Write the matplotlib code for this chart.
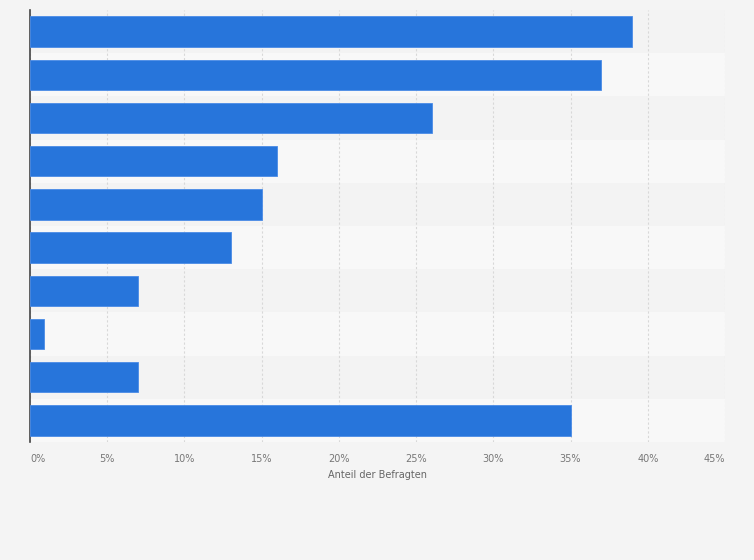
import numpy as np
import matplotlib.pyplot as plt

values = [39, 37, 26, 16, 15, 13, 7, 0.9, 7, 35]
ticks = [0, 5, 10, 15, 20, 25, 30, 35, 40, 45]
tick_labels = [str(t) + '%' for t in ticks]

fig = plt.figure(figsize=(7.54, 5.60), dpi=100)
fig.patch.set_facecolor('#f4f4f4')
ax = fig.add_axes([30/754, 1-442/560, 695/754, 432/560])
ax.set_facecolor('#f3f3f3')

n = len(values)
y = np.arange(n)
# alternating row bands
for i in range(n):
    if i % 2 == 1:
        ax.axhspan(i-0.5, i+0.5, color='#f8f8f8', zorder=0, lw=0)

ax.barh(y, values, height=0.7, color='#2775db', edgecolor='#4a8be6', linewidth=0.6, zorder=3)

ax.set_ylim(n-0.5, -0.5)
ax.set_xlim(0, 45)
ax.set_xticks(ticks)
ax.set_xticklabels(tick_labels, fontsize=7, color='#777777')
labels = ax.get_xticklabels()
labels[0].set_ha('left')
labels[-1].set_ha('right')
ax.set_yticks([])
ax.grid(axis='x', color='#d8d8d8', linestyle=(0, (2, 2)), linewidth=0.8, zorder=1)
for s in ['top', 'right', 'bottom']:
    ax.spines[s].set_visible(False)
ax.spines['left'].set_color('#444444')
ax.spines['left'].set_linewidth(1.2)
ax.tick_params(axis='x', length=0, pad=9)
ax.set_xlabel('Anteil der Befragten', fontsize=7, color='#666666', labelpad=4)

plt.savefig('out.png', dpi=100, facecolor=fig.get_facecolor())
